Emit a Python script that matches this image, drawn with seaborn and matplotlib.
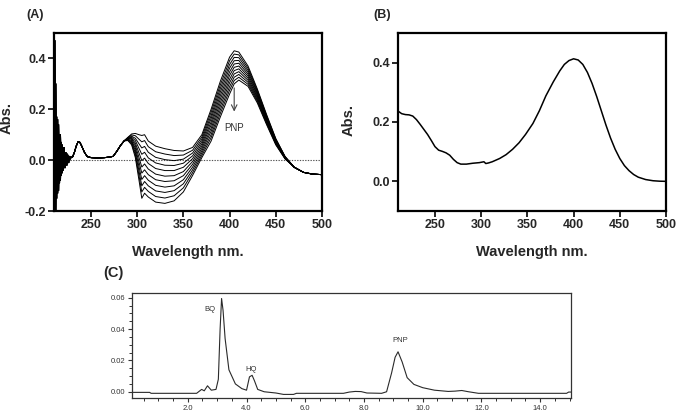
import numpy as np
import matplotlib
matplotlib.use("Agg")
import matplotlib.pyplot as plt
import pandas as pd
import seaborn as sns
from matplotlib.ticker import MultipleLocator, FixedLocator

# ---------------- data: panel (A) UV-vis scans ----------------
# noisy start of each scan (210-228 nm), three variants
noise_wl = [210, 211, 212, 213, 214, 215, 216, 217, 218, 219, 220, 221, 222, 223, 224, 225, 226, 227, 228]
noise_a = [0.05, 0.47, -0.2, 0.17, -0.13, 0.14, -0.09, 0.1, -0.06, 0.06, -0.04, 0.05, -0.03, 0.03, -0.02, 0.02, -0.01, 0.015, 0.01]
noise_b = [-0.1, -0.2, 0.3, -0.15, 0.16, -0.12, 0.1, -0.08, 0.07, -0.05, 0.05, -0.03, 0.03, -0.02, 0.025, -0.01, 0.015, 0.0, 0.012]
noise_c = [0.2, 0.05, -0.15, 0.12, -0.1, 0.08, -0.07, 0.06, -0.05, 0.04, -0.03, 0.035, -0.02, 0.02, -0.01, 0.015, 0.0, 0.01, 0.008]

# shared part 230-286 nm
bump_wl = [230, 232, 234, 236, 238, 240, 243, 246, 250, 255, 260, 265, 270, 274, 278, 282, 286]
bump_abs = [0.012, 0.03, 0.055, 0.072, 0.07, 0.055, 0.03, 0.014, 0.01, 0.009, 0.009, 0.01, 0.012, 0.015, 0.035, 0.058, 0.076]

# per-scan part 290-460 nm (scan 1 = highest PNP peak)
main_wl = [290, 294, 298, 302, 305, 308, 312, 320, 330, 340, 350, 360, 370, 380, 390, 400, 405, 410, 420, 430, 440, 450, 460]
scan_01 = [0.090, 0.103, 0.105, 0.100, 0.097, 0.100, 0.075, 0.055, 0.045, 0.038, 0.036, 0.050, 0.100, 0.200, 0.310, 0.405, 0.430, 0.425, 0.370, 0.280, 0.180, 0.085, 0.015]
scan_02 = [0.089, 0.099, 0.096, 0.082, 0.072, 0.077, 0.053, 0.033, 0.024, 0.018, 0.020, 0.039, 0.091, 0.188, 0.296, 0.391, 0.417, 0.414, 0.362, 0.275, 0.176, 0.083, 0.014]
scan_03 = [0.087, 0.094, 0.086, 0.064, 0.048, 0.054, 0.031, 0.011, 0.002, -0.002, 0.004, 0.028, 0.082, 0.175, 0.282, 0.376, 0.404, 0.403, 0.354, 0.269, 0.172, 0.080, 0.013]
scan_04 = [0.086, 0.090, 0.077, 0.046, 0.023, 0.031, 0.009, -0.011, -0.020, -0.021, -0.012, 0.017, 0.073, 0.163, 0.268, 0.362, 0.391, 0.392, 0.346, 0.264, 0.168, 0.078, 0.012]
scan_05 = [0.085, 0.086, 0.067, 0.028, -0.002, 0.008, -0.013, -0.033, -0.041, -0.041, -0.028, 0.006, 0.064, 0.150, 0.254, 0.347, 0.378, 0.381, 0.338, 0.258, 0.164, 0.075, 0.011]
scan_06 = [0.084, 0.082, 0.058, 0.010, -0.027, -0.015, -0.035, -0.055, -0.063, -0.061, -0.045, -0.005, 0.055, 0.138, 0.240, 0.333, 0.365, 0.370, 0.330, 0.253, 0.160, 0.073, 0.010]
scan_07 = [0.082, 0.077, 0.048, -0.008, -0.051, -0.038, -0.057, -0.077, -0.084, -0.081, -0.061, -0.016, 0.046, 0.125, 0.226, 0.318, 0.352, 0.359, 0.322, 0.247, 0.156, 0.070, 0.009]
scan_08 = [0.081, 0.073, 0.039, -0.026, -0.076, -0.061, -0.079, -0.099, -0.106, -0.101, -0.077, -0.027, 0.037, 0.113, 0.212, 0.304, 0.339, 0.348, 0.314, 0.242, 0.152, 0.068, 0.008]
scan_09 = [0.080, 0.069, 0.029, -0.044, -0.101, -0.084, -0.101, -0.121, -0.127, -0.120, -0.093, -0.038, 0.028, 0.100, 0.198, 0.289, 0.326, 0.337, 0.306, 0.236, 0.148, 0.065, 0.007]
scan_10 = [0.078, 0.064, 0.020, -0.062, -0.125, -0.107, -0.123, -0.143, -0.149, -0.140, -0.109, -0.049, 0.019, 0.088, 0.184, 0.275, 0.313, 0.326, 0.298, 0.231, 0.144, 0.063, 0.006]
scan_11 = [0.077, 0.060, 0.010, -0.080, -0.150, -0.130, -0.145, -0.165, -0.170, -0.160, -0.125, -0.060, 0.010, 0.075, 0.170, 0.260, 0.300, 0.315, 0.290, 0.225, 0.140, 0.060, 0.005]

tail_wl = [470, 480, 490, 500]
tail_abs = [-0.028, -0.048, -0.055, -0.057]

# ---------------- data: panel (B) ----------------
b_wl = [210, 214, 218, 222, 226, 230, 234, 238, 242, 246, 250, 254, 258, 262, 266, 270, 274, 278, 284, 291, 298, 303, 305,
        308, 312, 320, 327, 334, 341, 348, 356, 363, 370, 378, 385, 390, 395, 400, 405, 410, 415, 420, 425, 430, 435, 440,
        445, 450, 455, 460, 465, 470, 478, 486, 493, 500]
b_abs = [0.237, 0.228, 0.225, 0.224, 0.22, 0.208, 0.192, 0.175, 0.158, 0.138, 0.117, 0.105, 0.101, 0.096, 0.088, 0.074, 0.063, 0.058, 0.058, 0.061, 0.063, 0.066, 0.06,
         0.062, 0.066, 0.077, 0.09, 0.108, 0.13, 0.158, 0.195, 0.238, 0.288, 0.335, 0.372, 0.394, 0.407, 0.413, 0.409, 0.394, 0.367, 0.33, 0.286, 0.238, 0.19, 0.146,
         0.108, 0.077, 0.053, 0.036, 0.023, 0.014, 0.006, 0.002, 0.0005, 0.0]

# ---------------- data: panel (C) chromatogram ----------------
c_time = [0.1, 0.7, 0.75, 2.3, 2.47, 2.56, 2.67, 2.8, 2.96, 3.04, 3.1, 3.15, 3.2, 3.27, 3.4, 3.62, 3.84, 4.0, 4.1, 4.19, 4.27, 4.38, 4.6,
          5.0, 5.26, 5.6, 5.7, 7.3, 7.5, 7.7, 7.9, 8.1, 8.6, 8.77, 8.94, 9.06, 9.16, 9.3, 9.47, 9.7, 10.0, 10.4, 10.87, 11.1, 11.33,
          11.56, 11.9, 14.9, 14.97, 15.05]
c_signal = [-0.0004, -0.0004, -0.001, -0.001, 0.0015, 0.0006, 0.0038, 0.001, 0.0015, 0.008, 0.04, 0.0595, 0.052, 0.034, 0.014, 0.005, 0.002, 0.001, 0.0095, 0.0105, 0.007, 0.0015, 0.0,
            -0.0008, -0.0017, -0.0017, -0.001, -0.001, -0.0002, 0.0002, 0.0001, -0.0008, -0.001, 0.0, 0.012, 0.022, 0.0255, 0.019, 0.009, 0.0047, 0.0026, 0.001, 0.0002, 0.0004, 0.0008,
            0.0, -0.001, -0.001, -0.0002, -0.0002]

scan_list = [scan_01, scan_02, scan_03, scan_04, scan_05, scan_06, scan_07, scan_08, scan_09, scan_10, scan_11]
noise_list = [noise_a, noise_b, noise_c]

rows = []
for i, sc in enumerate(scan_list):
    wl = noise_wl + bump_wl + main_wl + tail_wl
    ab = noise_list[i % 3] + bump_abs + sc + tail_abs
    for w, a in zip(wl, ab):
        rows.append({"scan": i, "wl": w, "abs": a})
df_a = pd.DataFrame(rows)
df_b = pd.DataFrame({"wl": b_wl, "abs": b_abs})
df_c = pd.DataFrame({"time": c_time, "signal": c_signal})

sns.set_style("ticks")
plt.rcParams["font.family"] = ["Liberation Sans", "DejaVu Sans"]
plt.rcParams["axes.unicode_minus"] = False

fig = plt.figure(figsize=(6.83, 4.18), dpi=100)
axA = fig.add_axes([0.0791, 0.4952, 0.3923, 0.4259])
axB = fig.add_axes([0.5827, 0.4952, 0.3924, 0.4259])
axC = fig.add_axes([0.1933, 0.0478, 0.6427, 0.2512])

# panel A
axA.axhline(0, color="#555555", lw=0.8, ls=(0, (1.2, 1.2)), zorder=1)
sns.lineplot(data=df_a, x="wl", y="abs", units="scan", estimator=None, sort=False,
             color="black", lw=0.7, ax=axA, legend=False)
axA.annotate("", xy=(405, 0.18), xytext=(405, 0.295),
             arrowprops=dict(arrowstyle="->", color="#444444", lw=0.8))
axA.text(405, 0.125, "PNP", ha="center", va="center", fontsize=7, color="#333333")
axA.set_ylim(-0.2, 0.5)
axA.set_yticks([-0.2, 0.0, 0.2, 0.4])

# panel B
sns.lineplot(data=df_b, x="wl", y="abs", sort=False, color="black", lw=1.1, ax=axB)
axB.set_ylim(-0.1, 0.5)
axB.set_yticks([0.0, 0.2, 0.4])

for ax in (axA, axB):
    ax.set_xlim(210, 500)
    ax.set_xticks([250, 300, 350, 400, 450, 500])
    ax.yaxis.set_major_formatter(matplotlib.ticker.FormatStrFormatter("%.1f"))
    for s in ax.spines.values():
        s.set_linewidth(1.6)
        s.set_color("black")
    ax.tick_params(direction="out", length=4, width=1.4, labelsize=9, pad=2)
    for lab in ax.get_xticklabels() + ax.get_yticklabels():
        lab.set_fontweight("bold")
    ax.set_xlabel("Wavelength nm.", fontsize=10.5, fontweight="bold")
    ax.set_ylabel("Abs.", fontsize=10.5, fontweight="bold")
    ax.xaxis.set_label_coords(0.5, -0.19)
axA.yaxis.set_label_coords(-0.15, 0.52)
axB.yaxis.set_label_coords(-0.157, 0.51)

# panel C
sns.lineplot(data=df_c, x="time", y="signal", sort=False, color="#2a2a2a", lw=0.8, ax=axC)
axC.set_xlim(0.1, 15.05)
axC.set_ylim(-0.004, 0.063)
axC.xaxis.set_major_locator(FixedLocator([2, 4, 6, 8, 10, 12, 14]))
axC.xaxis.set_minor_locator(MultipleLocator(0.5))
axC.yaxis.set_major_locator(FixedLocator([0.0, 0.02, 0.04, 0.06]))
axC.yaxis.set_minor_locator(MultipleLocator(0.005))
axC.xaxis.set_major_formatter(matplotlib.ticker.FormatStrFormatter("%.1f"))
axC.yaxis.set_major_formatter(matplotlib.ticker.FormatStrFormatter("%.2f"))
for s in axC.spines.values():
    s.set_linewidth(0.9)
    s.set_color("#333333")
axC.tick_params(which="major", direction="out", length=3, width=0.8, labelsize=5.5,
                colors="#333333", pad=2)
axC.tick_params(which="minor", direction="out", length=2, width=0.7, colors="#333333")
axC.set_xlabel("")
axC.set_ylabel("")
axC.text(2.74, 0.0526, "BQ", ha="center", va="center", fontsize=5.5, color="#333333")
axC.text(4.16, 0.0143, "HQ", ha="center", va="center", fontsize=5.5, color="#333333")
axC.text(9.25, 0.033, "PNP", ha="center", va="center", fontsize=5.5, color="#333333")

fig.text(0.038, 0.964, "(A)", fontsize=9, fontweight="bold", va="center")
fig.text(0.546, 0.964, "(B)", fontsize=9, fontweight="bold", va="center")
fig.text(0.151, 0.347, "(C)", fontsize=10.5, fontweight="bold", va="center")

fig.savefig("out.png", dpi=100)
